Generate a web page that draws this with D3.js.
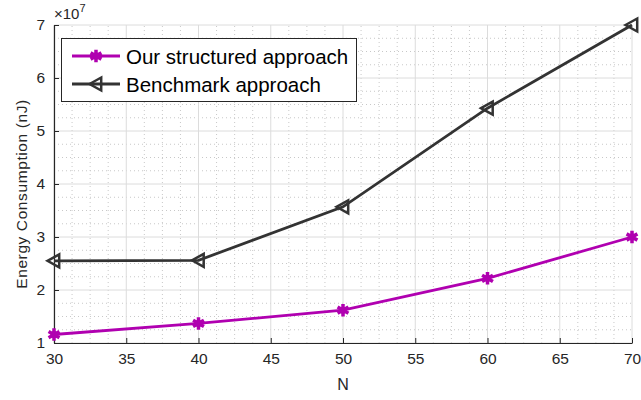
<!DOCTYPE html>
<html><head><meta charset="utf-8">
<script src="https://cdn.jsdelivr.net/npm/d3@7"></script>
<style>body{margin:0;background:#fff}svg{display:block}text{font-family:"Liberation Sans",Arial,sans-serif}</style>
</head><body>
<script>
const nValues = [30, 40, 50, 60, 70];
const ourApproach = [1.16, 1.37, 1.62, 2.22, 3.0];       // ×10^7 nJ
const benchmark = [2.55, 2.56, 3.57, 5.43, 7.0];        // ×10^7 nJ
const xTicks = [30, 35, 40, 45, 50, 55, 60, 65, 70];
const yTicks = [1, 2, 3, 4, 5, 6, 7];
const seriesNames = ["Our structured approach", "Benchmark approach"];

const W = 641, H = 400;
const m = {l: 54, r: 9, t: 25, b: 57};
const svg = d3.select("body").append("svg").attr("width", W).attr("height", H);

const x = d3.scaleLinear().domain([30, 70]).range([m.l, W - m.r]);
const y = d3.scaleLinear().domain([1, 7]).range([H - m.b, m.t]);

const g = svg.append("g");
// minor grid (dotted)
const xMinor = d3.range(30, 70.001, 1.25).filter(v => !xTicks.includes(v));
const yMinor = d3.range(1, 7.001, 0.25).filter(v => !yTicks.includes(v));
g.selectAll(".xm").data(xMinor).join("line")
  .attr("x1", d => x(d)).attr("x2", d => x(d)).attr("y1", y(1)).attr("y2", y(7))
  .attr("stroke", "#c8c8c8").attr("stroke-width", 1).attr("stroke-dasharray", "1,3");
g.selectAll(".ym").data(yMinor).join("line")
  .attr("y1", d => y(d)).attr("y2", d => y(d)).attr("x1", x(30)).attr("x2", x(70))
  .attr("stroke", "#c8c8c8").attr("stroke-width", 1).attr("stroke-dasharray", "1,3");
// major grid
g.selectAll(".xg").data(xTicks).join("line")
  .attr("x1", d => x(d)).attr("x2", d => x(d)).attr("y1", y(1)).attr("y2", y(7))
  .attr("stroke", "#dcdcdc").attr("stroke-width", 1);
g.selectAll(".yg").data(yTicks).join("line")
  .attr("y1", d => y(d)).attr("y2", d => y(d)).attr("x1", x(30)).attr("x2", x(70))
  .attr("stroke", "#dcdcdc").attr("stroke-width", 1);

// axes
const xAxis = svg.append("g").attr("transform", `translate(0,${y(1)})`)
  .call(d3.axisBottom(x).tickValues(xTicks).tickFormat(d3.format("d"))
    .tickSizeInner(-5).tickSizeOuter(0).tickPadding(10));
const yAxis = svg.append("g").attr("transform", `translate(${x(30)},0)`)
  .call(d3.axisLeft(y).tickValues(yTicks).tickFormat(d3.format("d"))
    .tickSizeInner(-5).tickSizeOuter(0).tickPadding(9));
[xAxis, yAxis].forEach(a => {
  a.select(".domain").attr("stroke", "#262626").attr("stroke-width", 1.2);
  a.selectAll(".tick line").attr("stroke", "#262626");
  a.selectAll(".tick text").attr("fill", "#262626").attr("font-size", 15.5)
    .attr("font-family", "Liberation Sans, Arial, sans-serif");
});

// axis labels
svg.append("text").attr("x", x(50)).attr("y", 390).attr("text-anchor", "middle")
  .attr("font-size", 16).attr("fill", "#262626").text("N");
svg.append("text").attr("transform", `translate(27,194) rotate(-90)`)
  .attr("text-anchor", "middle").attr("font-size", 15.5).attr("fill", "#262626")
  .attr("letter-spacing", 0.6).text("Energy Consumption (nJ)");
const mult = svg.append("text").attr("x", 54).attr("y", 19).attr("font-size", 15).attr("fill", "#262626");
mult.append("tspan").text("×10");
mult.append("tspan").attr("dy", -7).attr("font-size", 11).text("7");

const colors = ["#b000b0", "#333333"];
const data = [ourApproach, benchmark];
const line = d3.line().x((d, i) => x(nValues[i])).y(d => y(d));

function drawMarker(sel, k, cx, cy) {
  if (k === 0) {
    sel.append("path").attr("transform", `translate(${cx},${cy})`)
      .attr("d", d3.symbol(d3.symbolAsterisk, 110)())
      .attr("stroke", colors[0]).attr("stroke-width", 3.5).attr("fill", "none");
    sel.append("circle").attr("cx", cx).attr("cy", cy).attr("r", 3.5).attr("fill", colors[0]);
  } else {
    const s = 6.5;
    sel.append("path")
      .attr("d", `M${cx - s},${cy} L${cx + s * 0.8},${cy - s} L${cx + s * 0.8},${cy + s} Z`)
      .attr("stroke", colors[1]).attr("stroke-width", 2.5).attr("fill", "none");
  }
}

data.forEach((vals, k) => {
  svg.append("path").datum(vals).attr("d", line).attr("fill", "none")
    .attr("stroke", colors[k]).attr("stroke-width", 2.8);
  const mg = svg.append("g");
  vals.forEach((v, i) => drawMarker(mg, k, x(nValues[i]), y(v)));
});

// legend
const lg = svg.append("g");
lg.append("rect").attr("x", 61.5).attr("y", 38.5).attr("width", 295).attr("height", 63)
  .attr("fill", "#fff").attr("stroke", "#262626").attr("stroke-width", 1);
seriesNames.forEach((name, k) => {
  const ly = 56 + k * 28;
  lg.append("line").attr("x1", 72).attr("x2", 120).attr("y1", ly).attr("y2", ly)
    .attr("stroke", colors[k]).attr("stroke-width", 2.8);
  drawMarker(lg, k, 96, ly);
  lg.append("text").attr("x", 126).attr("y", ly + 8).attr("font-size", 20.5)
    .attr("fill", "#000").text(name);
});
</script>
</body></html>
